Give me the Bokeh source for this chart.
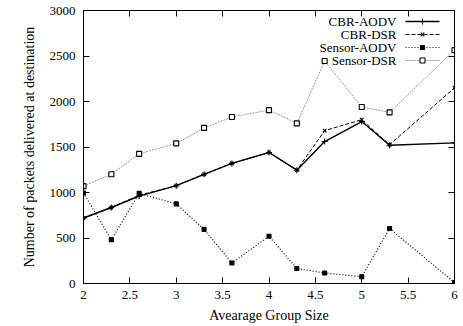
from bokeh.plotting import figure
from bokeh.models import Range1d, LinearAxis, FixedTicker
from bokeh.core.properties import value
from bokeh.embed import file_html
from bokeh.resources import INLINE

# ---- data ----
group_size = [2, 2.3, 2.6, 3, 3.3, 3.6, 4, 4.3, 4.6, 5, 5.3, 6]
cbr_aodv = [720, 835, 960, 1075, 1200, 1320, 1440, 1245, 1560, 1780, 1520, 1545]
cbr_dsr = [720, 835, 970, 1075, 1200, 1320, 1440, 1245, 1680, 1800, 1525, 2150]
sensor_aodv = [995, 480, 990, 875, 595, 225, 520, 165, 115, 75, 605, 10]
sensor_dsr = [1070, 1200, 1425, 1540, 1710, 1830, 1905, 1760, 2445, 1940, 1880, 2565]
series_names = ["CBR-AODV", "CBR-DSR", "Sensor-AODV", "Sensor-DSR"]
x_ticks = [2, 2.5, 3, 3.5, 4, 4.5, 5, 5.5, 6]
y_ticks = [0, 500, 1000, 1500, 2000, 2500, 3000]

FONT = "Liberation Serif"

p = figure(width=463, height=326, output_backend="svg", toolbar_location=None,
           x_range=Range1d(2, 6), y_range=Range1d(0, 3000),
           min_border_left=83, min_border_right=9, min_border_top=10,
           min_border_bottom=43, x_axis_location=None, y_axis_location=None)
p.xgrid.visible = False
p.ygrid.visible = False
p.outline_line_color = "black"
p.outline_line_width = 1
p.background_fill_color = "white"
p.border_fill_color = "white"


def style_axis(ax, show_labels, ticks):
    ax.axis_line_color = "black"
    ax.major_tick_in = 6
    ax.major_tick_out = 0
    ax.major_tick_line_color = "black"
    ax.minor_tick_line_color = None
    ax.major_label_text_font = FONT
    ax.axis_label_text_font = FONT
    ax.axis_label_text_font_style = "normal"
    ax.major_label_text_color = "black"
    ax.axis_label_text_color = "black"
    ax.major_label_text_font_size = "13px"
    ax.axis_label_text_font_size = "14px"
    if not show_labels:
        ax.major_label_overrides = {t: "" for t in ticks}
        ax.major_label_standoff = 0


xb = LinearAxis(ticker=FixedTicker(ticks=x_ticks), axis_label="Avearage Group Size")
style_axis(xb, True, x_ticks)
xb.major_label_standoff = 7
xb.axis_label_standoff = 6
p.add_layout(xb, "below")

yl = LinearAxis(ticker=FixedTicker(ticks=y_ticks),
                axis_label="Number of packets delivered at destination")
style_axis(yl, True, y_ticks)
yl.major_label_standoff = 8
yl.axis_label_standoff = 10
p.add_layout(yl, "left")

xt = LinearAxis(ticker=FixedTicker(ticks=x_ticks))
style_axis(xt, False, x_ticks)
p.add_layout(xt, "above")

yr = LinearAxis(ticker=FixedTicker(ticks=y_ticks))
style_axis(yr, False, y_ticks)
p.add_layout(yr, "right")

styles = [
    dict(color="black", dash="solid", width=1.4, marker="cross", fill="black", size=6),
    dict(color="black", dash="4 2", width=1.0, marker="x", fill="black", size=5),
    dict(color="black", dash="1 2", width=1.2, marker="square", fill="black", size=4),
    dict(color="#808080", dash="2 1", width=0.8, marker="square", fill="white", size=5),
]
all_series = [cbr_aodv, cbr_dsr, sensor_aodv, sensor_dsr]

for ys, st in zip(all_series, styles):
    p.line(group_size, ys, line_color=st["color"], line_dash=st["dash"], line_width=st["width"])
    p.scatter(group_size, ys, marker=st["marker"], size=st["size"], line_color="black",
              fill_color=st["fill"], line_width=1.1)

# ---- legend (text right-aligned, key on the right, as in the original) ----
p.extra_x_ranges = {"sx": Range1d(0, 371)}
p.extra_y_ranges = {"sy": Range1d(0, 273)}
leg_y = [262, 249, 236, 223]
p.text(x=[313] * 4, y=leg_y, text=series_names, x_range_name="sx", y_range_name="sy",
       text_align="right", text_baseline="middle", text_font=value(FONT),
       text_font_size="13px", text_color="black")
for yy, st in zip(leg_y, styles):
    p.line([322, 356], [yy, yy], x_range_name="sx", y_range_name="sy",
           line_color=st["color"], line_dash=st["dash"], line_width=st["width"])
    p.scatter([339], [yy], x_range_name="sx", y_range_name="sy", marker=st["marker"],
              size=st["size"], line_color="black", fill_color=st["fill"], line_width=1.1)

open("out.html", "w").write(file_html(p, INLINE))
